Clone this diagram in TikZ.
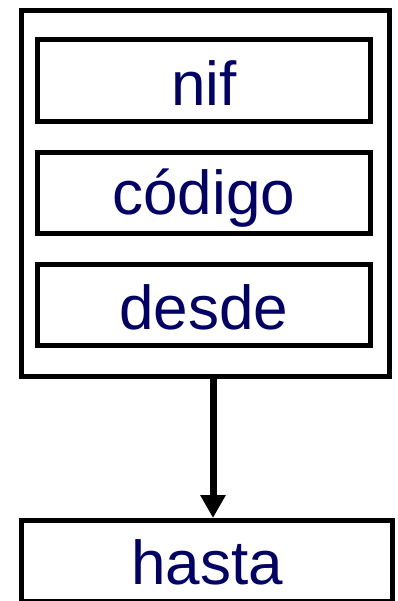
\documentclass[tikz,border=0pt]{standalone}
\usepackage{fontspec}
\setmainfont{Liberation Sans}
\usetikzlibrary{arrows.meta}
\definecolor{navy}{RGB}{0,0,102}
\begin{document}
\begin{tikzpicture}[x=1pt,y=-1pt,
  frame/.style={draw=black, line width=5pt, inner sep=0pt, outer sep=0pt, anchor=north west},
  field/.style={frame, inner xsep=0pt, inner ysep=0pt, font=\fontsize{62}{62}\selectfont, text=navy},
  link/.style={line width=7pt, -{Triangle[length=23pt,width=24pt]}}
]
\useasboundingbox (0,0) rectangle (397,601);
\fill[white] (0,0) rectangle (397,601);
\node[frame, minimum width=367.5pt, minimum height=365pt] (outer) at (21.5,11) {};
\node[field, minimum width=332.5pt, text height=66pt, text depth=15.5pt] (nif) at (37.5,40) {nif};
\node[field, minimum width=332.5pt, text height=62.5pt, text depth=18.5pt] (codigo) at (37.5,152.5) {código};
\node[field, minimum width=332.5pt, text height=64.5pt, text depth=16.5pt] (desde) at (37.5,264.5) {desde};
\node[field, minimum width=371pt, text height=63.5pt, text depth=17.5pt] (hasta) at (21.5,520.5) {hasta};
\draw[link] ([xshift=7.75pt]outer.south) -- ([xshift=7.75pt,yshift=2.5pt]outer.south |- hasta.north);
\end{tikzpicture}
\end{document}
